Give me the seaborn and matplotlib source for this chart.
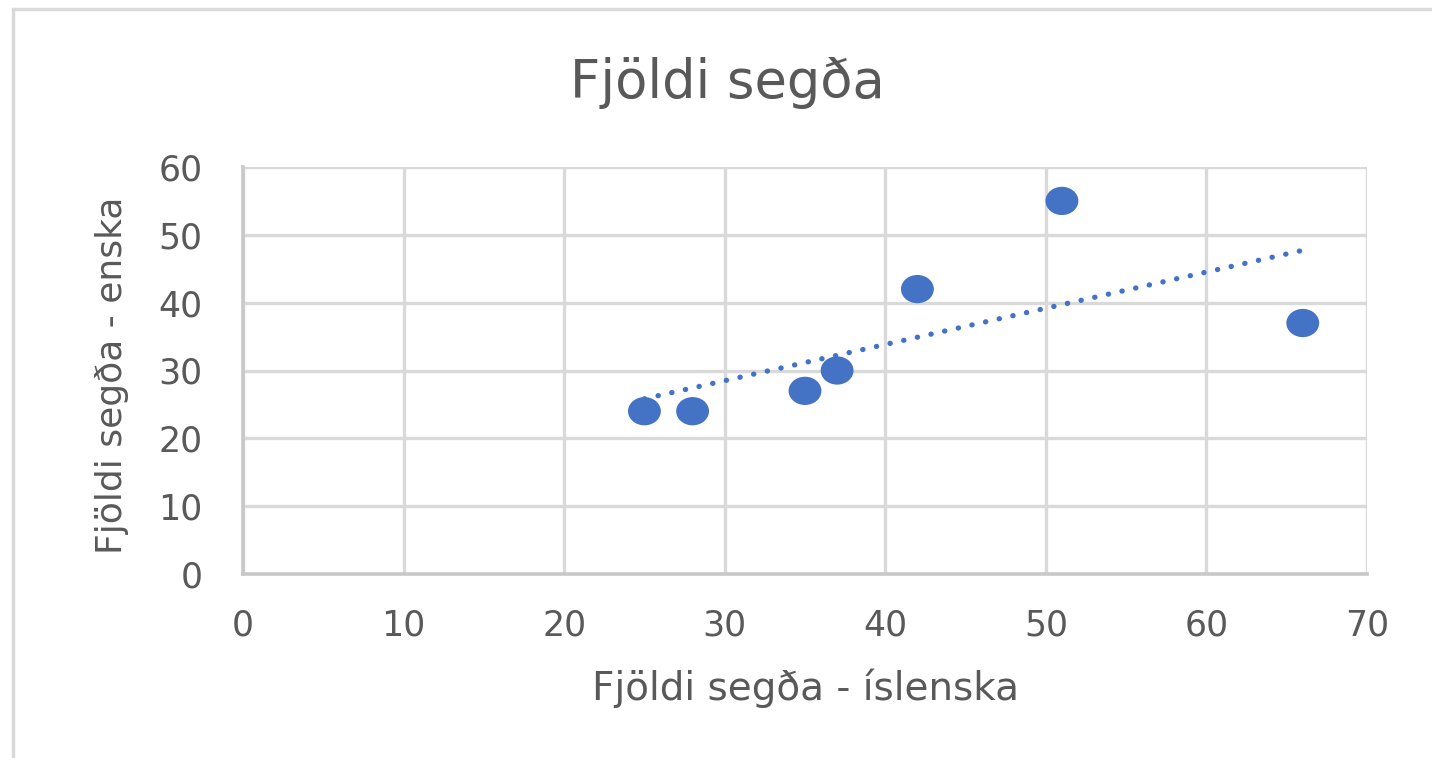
import numpy as np
import pandas as pd
import matplotlib
matplotlib.use("Agg")
import matplotlib.pyplot as plt
import seaborn as sns
from matplotlib.patches import Rectangle
from matplotlib.path import Path

# data
islenska = [25, 28, 35, 37, 42, 51, 66]
enska = [24, 24, 27, 30, 42, 55, 37]
x_ticks = [0, 10, 20, 30, 40, 50, 60, 70]
y_ticks = [0, 10, 20, 30, 40, 50, 60]

df = pd.DataFrame({"islenska": islenska, "enska": enska})

sns.set_style("white")
plt.rcParams['font.family'] = ['DejaVu Sans']

blue = "#4472C4"
grey_txt = "#595959"

# slightly wide ellipse marker, like the stretched original
circ = Path.unit_circle()
ellipse = Path(circ.vertices * np.array([1.0, 0.86]), circ.codes)

fig = plt.figure(figsize=(14.32, 7.58), dpi=100)
ax = fig.add_axes([243/1432, 1 - 574/758, (1367-243)/1432, (574-167)/758])

# trendline
sns.regplot(data=df, x="islenska", y="enska", ax=ax, scatter=False, ci=None,
            line_kws=dict(color=blue, lw=3.8, linestyle=(0, (0.05, 2.6)),
                          dash_capstyle="round", zorder=3))
sns.scatterplot(data=df, x="islenska", y="enska", ax=ax, color=blue, s=560,
                marker=ellipse, edgecolor="none", zorder=4)

ax.set_xlim(0, 70)
ax.set_ylim(0, 60)
ax.set_xticks(x_ticks)
ax.set_yticks(y_ticks)
ax.grid(True, color="#D9D9D9", lw=2.4)
ax.set_axisbelow(True)
for s in ["top", "right"]:
    ax.spines[s].set_visible(False)
for s in ["left", "bottom"]:
    ax.spines[s].set_color("#C8C8C8")
    ax.spines[s].set_linewidth(2.6)
ax.tick_params(axis="both", length=0, labelsize=25, colors=grey_txt)
ax.tick_params(axis="x", pad=25)
ax.tick_params(axis="y", pad=29)

ax.set_xlabel("Fjöldi segða - íslenska", fontsize=28, color=grey_txt, va="center")
ax.set_ylabel("Fjöldi segða - enska", fontsize=26, color=grey_txt, va="center")
ax.xaxis.set_label_coords((805-243)/1124, -(688-574)/407)
ax.yaxis.set_label_coords(-(243-112)/1124, (574-375)/407)

fig.text(727/1432, 1 - 83/758, "Fjöldi segða", fontsize=38, color=grey_txt,
         ha="center", va="center")

# chart frame
fig.patches.append(Rectangle((13/1432, -0.1), 1.2, 1 - 9/758 + 0.1,
                             transform=fig.transFigure, fill=False,
                             edgecolor="#D9D9D9", lw=2.5))

fig.savefig("out.png", dpi=100, facecolor="white")
